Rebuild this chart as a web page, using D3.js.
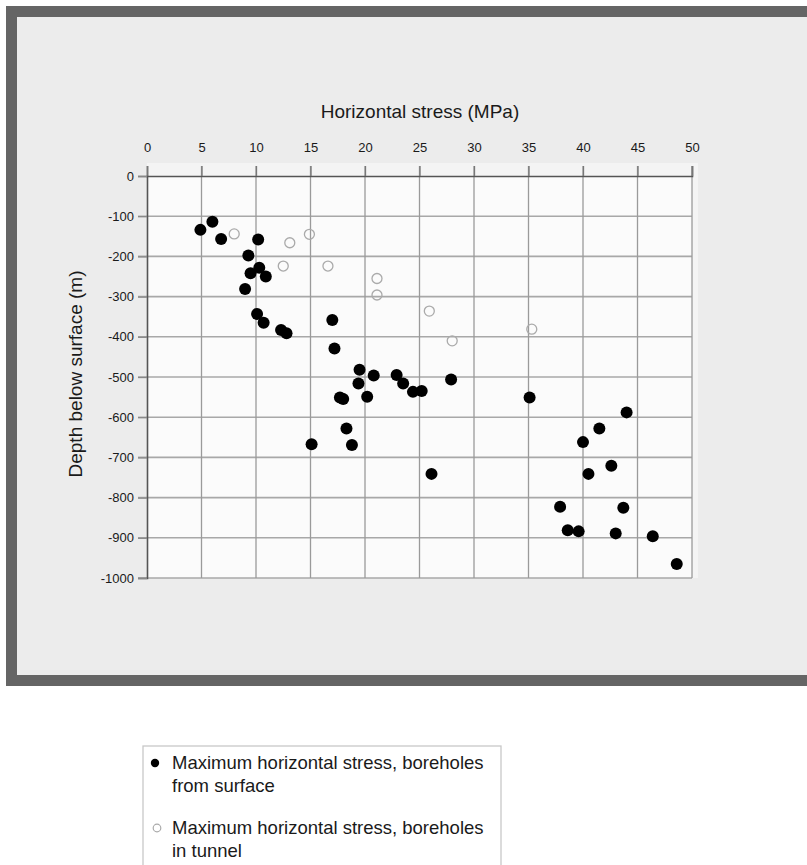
<!DOCTYPE html>
<html><head><meta charset="utf-8">
<script src="https://cdn.jsdelivr.net/npm/d3@7/dist/d3.min.js"></script>
<style>
html,body{margin:0;padding:0;background:#fff;}
svg{display:block;font-family:"Liberation Sans",Arial,sans-serif;}
</style></head>
<body>
<svg id="chart" width="807" height="865"></svg>
<script>
// Data
const xTicks = [0,5,10,15,20,25,30,35,40,45,50];
const yTicks = [0,-100,-200,-300,-400,-500,-600,-700,-800,-900,-1000];
const surfaceStress = [4.9,6.0,6.8,10.2,9.3,10.3,9.5,10.9,9.0,10.1,10.7,12.3,12.8,17.0,17.2,19.5,20.8,19.4,17.7,18.0,20.2,22.9,23.5,24.4,25.2,27.9,35.1,18.3,18.8,15.1,26.1,44.0,41.5,40.0,42.6,40.5,37.9,43.7,38.6,39.6,43.0,46.4,48.6];
const surfaceDepth  = [-134,-114,-157,-158,-198,-228,-242,-250,-281,-343,-365,-383,-391,-358,-429,-482,-496,-516,-551,-555,-549,-495,-516,-537,-535,-506,-551,-628,-669,-667,-741,-588,-628,-662,-721,-741,-823,-825,-881,-884,-889,-896,-965];
const tunnelStress = [8.0,13.1,14.9,12.5,16.6,21.1,21.1,25.9,28.0,35.3];
const tunnelDepth  = [-144,-166,-145,-224,-224,-255,-296,-336,-410,-381];
const xTitle = "Horizontal stress (MPa)";
const yTitle = "Depth below surface (m)";
const legendLabels = [["Maximum horizontal stress, boreholes","from surface"],["Maximum horizontal stress, boreholes","in tunnel"]];

const svg = d3.select("#chart");
// panel frame
svg.append("rect").attr("x",6).attr("y",6).attr("width",820).attr("height",680).attr("fill","#656565");
svg.append("rect").attr("x",17).attr("y",17).attr("width",810).attr("height",658).attr("fill","#ececec");

const x = d3.scaleLinear().domain([0,50]).range([147,692]);
const y = d3.scaleLinear().domain([0,-1000]).range([176,578]);

// plot area
svg.append("rect").attr("x",x(0)).attr("y",163).attr("width",x(50)-x(0)+6).attr("height",y(-1000)-163)
  .attr("fill","#f4f4f4");
svg.append("rect").attr("x",x(0)).attr("y",y(0)).attr("width",x(50)-x(0)).attr("height",y(-1000)-y(0))
  .attr("fill","#fbfbfb");

// grid
const g = svg.append("g");
g.selectAll("line.h").data(yTicks.slice(1)).join("line")
  .attr("x1",x(0)-9).attr("x2",x(50)).attr("y1",d=>y(d)).attr("y2",d=>y(d))
  .attr("stroke","#a8a8a8").attr("stroke-width",1.6);
g.selectAll("line.v").data(xTicks.slice(1)).join("line")
  .attr("x1",d=>x(d)).attr("x2",d=>x(d)).attr("y1",166).attr("y2",y(-1000))
  .attr("stroke","#9a9a9a").attr("stroke-width",1.3);

// axes
const fmt = d => String(d);
const xAxis = d3.axisTop(x).tickValues(xTicks).tickSize(10).tickPadding(14).tickFormat(fmt);
const xg = svg.append("g").attr("transform",`translate(0,${y(0)})`).call(xAxis);
xg.select(".domain").attr("stroke","#555").attr("stroke-width",1.6);
xg.selectAll(".tick line").attr("stroke","#777").attr("stroke-width",1.3);
xg.selectAll("text").attr("font-size",13).attr("fill","#1a1a1a").attr("font-family","Liberation Sans, Arial, sans-serif");

const yAxis = d3.axisLeft(y).tickValues(yTicks).tickSize(9).tickPadding(4).tickFormat(fmt);
const yg = svg.append("g").attr("transform",`translate(${x(0)},0)`).call(yAxis);
yg.select(".domain").attr("stroke","#555").attr("stroke-width",1.6);
yg.selectAll(".tick line").attr("stroke","#888").attr("stroke-width",1.3);
yg.selectAll("text").attr("font-size",13).attr("fill","#1a1a1a").attr("font-family","Liberation Sans, Arial, sans-serif");

// titles
svg.append("text").attr("x",420).attr("y",118).attr("text-anchor","middle")
  .attr("font-size",19).attr("fill","#1a1a1a").text(xTitle);
svg.append("text").attr("transform","translate(82,374) rotate(-90)").attr("text-anchor","middle")
  .attr("font-size",19).attr("fill","#1a1a1a").text(yTitle);

// points
const tunnel = tunnelStress.map((v,i)=>({v,d:tunnelDepth[i]}));
const surface = surfaceStress.map((v,i)=>({v,d:surfaceDepth[i]}));
svg.append("g").selectAll("circle").data(tunnel).join("circle")
  .attr("cx",d=>x(d.v)).attr("cy",d=>y(d.d)).attr("r",5)
  .attr("fill","none").attr("stroke","#aaa").attr("stroke-width",1.3);
svg.append("g").selectAll("circle").data(surface).join("circle")
  .attr("cx",d=>x(d.v)).attr("cy",d=>y(d.d)).attr("r",6)
  .attr("fill","#000");

// legend
const lg = svg.append("g");
lg.append("rect").attr("x",143).attr("y",746).attr("width",358).attr("height",140)
  .attr("fill","#fff").attr("stroke","#c8c8c8").attr("stroke-width",1.3);
const items = lg.selectAll("g.item").data(legendLabels).join("g")
  .attr("transform",(d,i)=>`translate(0,${i*65})`);
items.append("circle").attr("cx",(d,i)=>i?157:155).attr("cy",763).attr("r",(d,i)=>i?3.8:4.2)
  .attr("fill",(d,i)=>i?"none":"#000").attr("stroke",(d,i)=>i?"#aaa":"none").attr("stroke-width",1.2);
items.each(function(d){
  const t = d3.select(this).append("text").attr("x",172).attr("y",769).attr("font-size",18.5).attr("fill","#1a1a1a");
  d.forEach((s,k)=>t.append("tspan").attr("x",172).attr("dy",k?23:0).text(s));
});
</script>
</body></html>
